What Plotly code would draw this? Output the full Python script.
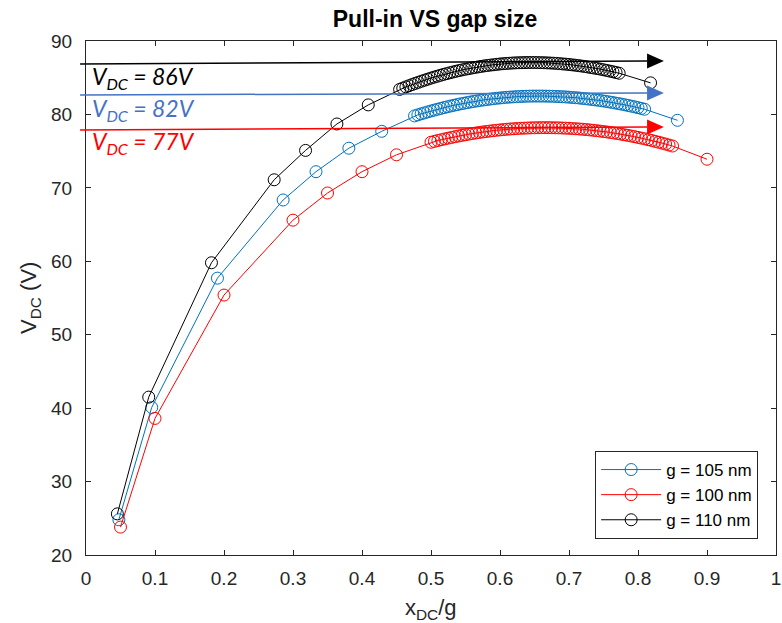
import plotly.graph_objects as go

# ---------------- data ----------------
# displacement x_DC in nm (shared by the three sweeps)
x_dc_nm = [5, 10, 20, 30, 35, 40, 45,
           50, 50.5, 51, 51.5, 52, 52.5, 53, 53.5, 54, 54.5, 55, 55.5, 56, 56.5,
           57, 57.5, 58, 58.5, 59, 59.5, 60, 60.5, 61, 61.5, 62, 62.5, 63, 63.5,
           64, 64.5, 65, 65.5, 66, 66.5, 67, 67.5, 68, 68.5, 69, 69.5, 70, 70.5,
           71, 71.5, 72, 72.5, 73, 73.5, 74, 74.5, 75, 75.5, 76, 76.5, 77, 77.5,
           78, 78.5, 79, 79.5, 80, 80.5, 81, 81.5, 82, 82.5, 83, 83.5, 84, 84.5,
           85, 90]

gap_105 = 105
v_105 = [24.8, 40.1, 57.7, 68.35, 72.2, 75.4, 77.7,
         79.80, 79.94, 80.08, 80.21, 80.34, 80.47, 80.59, 80.71, 80.82, 80.94,
         81.04, 81.15, 81.25, 81.34, 81.44, 81.52, 81.61, 81.69, 81.77, 81.84,
         81.91, 81.97, 82.04, 82.09, 82.15, 82.20, 82.24, 82.29, 82.33, 82.36,
         82.39, 82.42, 82.44, 82.46, 82.48, 82.49, 82.50, 82.50, 82.50, 82.50,
         82.49, 82.48, 82.47, 82.45, 82.43, 82.41, 82.38, 82.35, 82.31, 82.28,
         82.24, 82.19, 82.15, 82.09, 82.04, 81.98, 81.92, 81.86, 81.79, 81.72,
         81.64, 81.56, 81.48, 81.40, 81.31, 81.22, 81.12, 81.03, 80.92, 80.82,
         80.71, 79.2]

gap_100 = 100
v_100 = [23.8, 38.6, 55.4, 65.6, 69.3, 72.2, 74.5,
         76.21, 76.33, 76.45, 76.56, 76.67, 76.77, 76.87, 76.97, 77.06, 77.15,
         77.23, 77.32, 77.40, 77.47, 77.54, 77.61, 77.67, 77.73, 77.79, 77.84,
         77.89, 77.94, 77.98, 78.02, 78.05, 78.08, 78.11, 78.13, 78.15, 78.17,
         78.18, 78.19, 78.20, 78.20, 78.20, 78.19, 78.18, 78.17, 78.15, 78.13,
         78.11, 78.08, 78.05, 78.02, 77.98, 77.94, 77.89, 77.84, 77.79, 77.73,
         77.67, 77.61, 77.54, 77.47, 77.40, 77.32, 77.23, 77.15, 77.06, 76.97,
         76.87, 76.77, 76.67, 76.56, 76.45, 76.33, 76.21, 76.09, 75.96, 75.83,
         75.70, 73.9]

gap_110 = 110
v_110 = [25.6, 41.5, 59.8, 71.1, 75.1, 78.7, 81.3,
         83.41, 83.58, 83.75, 83.91, 84.07, 84.23, 84.38, 84.53, 84.67, 84.81,
         84.95, 85.08, 85.20, 85.33, 85.45, 85.56, 85.67, 85.78, 85.88, 85.98,
         86.07, 86.16, 86.24, 86.32, 86.40, 86.47, 86.54, 86.61, 86.67, 86.72,
         86.77, 86.82, 86.87, 86.91, 86.94, 86.97, 87.00, 87.02, 87.04, 87.05,
         87.06, 87.07, 87.07, 87.07, 87.06, 87.05, 87.04, 87.02, 87.00, 86.98,
         86.95, 86.92, 86.88, 86.84, 86.80, 86.75, 86.70, 86.65, 86.59, 86.53,
         86.46, 86.39, 86.32, 86.25, 86.17, 86.08, 85.99, 85.90, 85.81, 85.71,
         85.61, 84.3]

series_names = ["g = 105 nm", "g = 100 nm", "g = 110 nm"]
series_colors = ["#0072BD", "#FF0000", "#000000"]

# hand-drawn pull-in markers: label value, colour, line level at start / at arrow tip (V)
pullin_values = [86, 82, 77]
pullin_colors = ["#000000", "#4472C4", "#FF0000"]
pullin_line_start = [86.87, 82.65, 77.88]
pullin_line_end = [87.28, 82.92, 78.30]

x_ticks = [0, 0.1, 0.2, 0.3, 0.4, 0.5, 0.6, 0.7, 0.8, 0.9, 1]
y_ticks = [20, 30, 40, 50, 60, 70, 80, 90]
x_range = [0, 1]
y_range = [20, 90]

# ---------------- figure ----------------
fig = go.Figure()
for gap, v, name, col in zip([gap_105, gap_100, gap_110], [v_105, v_100, v_110],
                             series_names, series_colors):
    fig.add_trace(go.Scatter(
        x=[d / gap for d in x_dc_nm], y=v, name=name,
        mode="lines+markers",
        line=dict(color=col, width=1),
        marker=dict(symbol="circle-open", size=12, color=col, line=dict(width=1, color=col)),
    ))


def yp(v):
    return (v - y_range[0]) / (y_range[1] - y_range[0])


shapes = []
annotations = []
x_start = -0.0086
x_tip = 0.8375
x_base = 0.8131
half_h = 7.5 / 514
text_px_y = [78, 110, 142]
for val, col, ys, ye, ty in zip(pullin_values, pullin_colors, pullin_line_start,
                                pullin_line_end, text_px_y):
    y_tip = yp(ye)
    y_base = yp(ys + (ye - ys) * (x_base - x_start) / (x_tip - x_start))
    shapes.append(dict(type="line", xref="paper", yref="paper",
                       x0=x_start, y0=yp(ys), x1=x_base, y1=y_base,
                       line=dict(color=col, width=1.5)))
    shapes.append(dict(type="path", xref="paper", yref="paper",
                       path=f"M {x_tip} {y_tip} L {x_base} {y_tip + half_h} L {x_base} {y_tip - half_h} Z",
                       fillcolor=col, line=dict(color=col, width=0)))
    annotations.append(dict(xref="paper", yref="paper", x=(90 - 85.5) / 695.5,
                            y=(555 - ty) / 514, xanchor="left", yanchor="middle",
                            text=f"<i>V<sub>DC</sub> = {val}V</i>", showarrow=False,
                            font=dict(family="Lato", size=23, color=col)))

# axis titles
annotations.append(dict(xref="paper", yref="paper", x=0.5, y=(555 - 609) / 514,
                        xanchor="center", yanchor="middle", showarrow=False,
                        text="x<sub>DC</sub>/g",
                        font=dict(family="Liberation Sans", size=22, color="#262626")))
annotations.append(dict(xref="paper", yref="paper", x=(29 - 85.5) / 695.5, y=0.5,
                        xanchor="center", yanchor="middle", showarrow=False,
                        textangle=-90, text="V<sub>DC</sub> (V)",
                        font=dict(family="Liberation Sans", size=22, color="#262626")))

axis_common = dict(showgrid=False, zeroline=False, showline=True, linecolor="#262626",
                   linewidth=1, mirror="ticks", ticks="inside", ticklen=5,
                   tickcolor="#262626", tickwidth=1, ticklabeloverflow="allow",
                   tickfont=dict(family="Liberation Sans", size=19, color="#262626"))

fig.update_layout(
    width=782, height=623,
    margin=dict(l=86, r=1, t=41, b=68),
    paper_bgcolor="white", plot_bgcolor="white",
    title=dict(text="<b>Pull-in VS gap size</b>", x=(435) / 782, xanchor="center",
               y=1 - 19 / 623, yanchor="middle",
               font=dict(family="Liberation Sans", size=23, color="#000000")),
    xaxis=dict(range=x_range, tickvals=x_ticks, ticktext=[f"{t:g}" for t in x_ticks],
               ticklabelstandoff=6, **axis_common),
    yaxis=dict(range=y_range, tickvals=y_ticks, ticklabelstandoff=9, **axis_common),
    legend=dict(x=(763 - 85.5) / 695.5, xanchor="right", y=(555 - 539) / 514, yanchor="bottom",
                bgcolor="white", bordercolor="#262626", borderwidth=1,
                itemwidth=60, tracegroupgap=0,
                font=dict(family="Liberation Sans", size=17, color="#000000")),
    shapes=shapes,
    annotations=annotations,
    showlegend=True,
)

fig.write_html("out.html", config={"displayModeBar": False},
               post_script="document.body.style.margin='0';")
